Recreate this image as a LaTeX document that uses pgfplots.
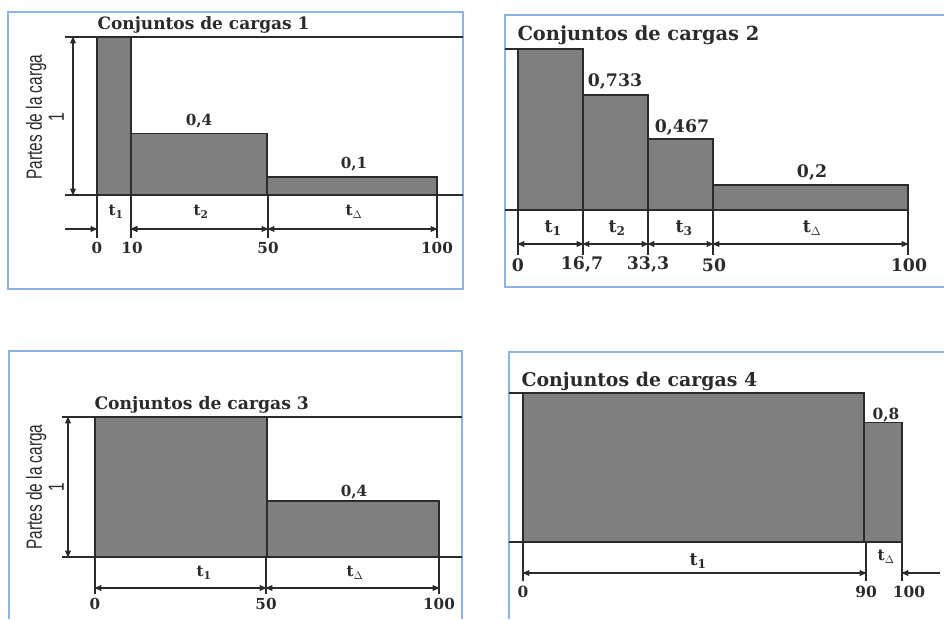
\documentclass[border=0pt]{standalone}
\usepackage{pgfplots}
\pgfplotsset{compat=1.18}
\usepackage{fontspec}
\setmainfont{DejaVu Serif}
\newfontfamily\narrowfont[FakeStretch=0.7]{Liberation Sans}
\usetikzlibrary{arrows.meta}
\definecolor{barfill}{HTML}{7F7F7F}
\definecolor{frameblue}{HTML}{8DB4E2}
\definecolor{ink}{HTML}{2B2B2B}
\newcommand\ta{\bfseries\fontsize{17}{20}\selectfont}
\newcommand\tc{\bfseries\fontsize{17.2}{20}\selectfont}
\newcommand\tb{\bfseries\fontsize{19.4}{22}\selectfont}
\newcommand\td{\bfseries\fontsize{18.9}{22}\selectfont}
\newcommand\na{\bfseries\fontsize{15.2}{18}\selectfont}
\newcommand\nb{\bfseries\fontsize{17.3}{20}\selectfont}
\newcommand\nd{\bfseries\fontsize{15.4}{18}\selectfont}
\newcommand\ylab{\narrowfont\fontsize{22}{22}\selectfont}
\pgfplotsset{
  panel/.style={anchor=south west, scale only axis, xmin=0, xmax=100, ymin=0, ymax=1, hide axis, clip=false},
  bar/.style={fill=barfill, draw=ink, line width=1.3pt, mark=none},
}
\begin{document}
\begin{tikzpicture}[line width=1.3pt, color=ink, >={Latex[length=6pt,width=5pt]}]
\useasboundingbox (0pt,0pt) rectangle (944pt,-619pt);

%% ---------------- axes (bars) ----------------
\begin{axis}[panel, at={(97pt,-195pt)}, width=340pt, height=158pt]
\addplot[bar] coordinates {(0,0) (0,1) (10,1) (10,0)} -- cycle;
\addplot[bar] coordinates {(10,0) (10,0.39) (50,0.39) (50,0)} -- cycle;
\addplot[bar] coordinates {(50,0) (50,0.114) (100,0.114) (100,0)} -- cycle;
\end{axis}
\begin{axis}[panel, at={(518pt,-210pt)}, width=390pt, height=161pt]
\addplot[bar] coordinates {(0,0) (0,1) (16.7,1) (16.7,0)} -- cycle;
\addplot[bar] coordinates {(16.7,0) (16.7,0.714) (33.3,0.714) (33.3,0)} -- cycle;
\addplot[bar] coordinates {(33.3,0) (33.3,0.441) (50,0.441) (50,0)} -- cycle;
\addplot[bar] coordinates {(50,0) (50,0.155) (100,0.155) (100,0)} -- cycle;
\end{axis}
\begin{axis}[panel, at={(95pt,-557pt)}, width=344pt, height=140pt]
\addplot[bar] coordinates {(0,0) (0,1) (50,1) (50,0)} -- cycle;
\addplot[bar] coordinates {(50,0) (50,0.4) (100,0.4) (100,0)} -- cycle;
\end{axis}
\begin{axis}[panel, at={(523pt,-542pt)}, width=379pt, height=149pt]
\addplot[bar] coordinates {(0,0) (0,1) (90,1) (90,0)} -- cycle;
\addplot[bar] coordinates {(90,0) (90,0.8) (100,0.8) (100,0)} -- cycle;
\end{axis}

\begin{scope}[x=1pt,y=-1pt]
%% ---------------- Panel 1 ----------------
\draw[frameblue, line width=1.2pt] (8,12) rectangle (463,289);
\draw (65,37) -- (463,37);
\draw (65,195) -- (463,195);
\draw[<->] (73,37) -- (73,195);
\foreach \x in {97,131,268,437} \draw (\x,195) -- (\x,238);
\draw[->] (65,229) -- (97,229);
\draw[<-] (131,229) -- (150,229);
\draw[<->] (131,229) -- (268,229);
\draw[<->] (268,229) -- (437,229);
\node[anchor=west, font=\ta] at (94,25) {Conjuntos de cargas 1};
\node[font=\na] at (199,121) {0,4};
\node[font=\na] at (354,164) {0,1};
\node[font=\na] at (116,212) {t\textsubscript{1}};
\node[font=\na] at (201,212) {t\textsubscript{2}};
\node[font=\na] at (354,212) {t\textsubscript{\(\Delta\)}};
\node[font=\na] at (97,248) {0};
\node[font=\na] at (132,248) {10};
\node[font=\na] at (268,248) {50};
\node[font=\na] at (437,248) {100};
\node[rotate=90, align=center, font=\ylab] at (45,117) {Partes de la carga\\1};

%% ---------------- Panel 2 ----------------
\draw[frameblue, line width=1.2pt] (944,15) -- (505,15) -- (505,287) -- (944,287);
\draw (505,49) -- (518,49);
\draw (505,210) -- (908,210);
\foreach \x in {518,583,648,713,908} \draw (\x,210) -- (\x,255);
\draw[<->] (518,244) -- (583,244);
\draw[<->] (583,244) -- (648,244);
\draw[<->] (648,244) -- (713,244);
\draw[<->] (713,244) -- (908,244);
\node[anchor=west, font=\tb] at (514,35) {Conjuntos de cargas 2};
\node[font=\nb] at (615,82) {0,733};
\node[font=\nb] at (682,128) {0,467};
\node[font=\nb] at (812,173) {0,2};
\node[font=\nb] at (553,228) {t\textsubscript{1}};
\node[font=\nb] at (617,228) {t\textsubscript{2}};
\node[font=\nb] at (684,228) {t\textsubscript{3}};
\node[font=\nb] at (812,228) {t\textsubscript{\(\Delta\)}};
\node[font=\nb] at (518,265) {0};
\node[font=\nb] at (582,265) {16,7};
\node[font=\nb] at (648,265) {33,3};
\node[font=\nb] at (714,265) {50};
\node[font=\nb] at (909,265) {100};

%% ---------------- Panel 3 ----------------
\draw[frameblue, line width=1.2pt] (9,619) -- (9,351) -- (462,351) -- (462,619);
\draw (62,417) -- (462,417);
\draw (62,557) -- (462,557);
\draw[<->] (68,417) -- (68,557);
\foreach \x in {95,266,439} \draw (\x,557) -- (\x,594);
\draw[<->] (95,588) -- (266,588);
\draw[<->] (266,588) -- (439,588);
\node[anchor=west, font=\tc] at (91,405) {Conjuntos de cargas 3};
\node[font=\na] at (354,492) {0,4};
\node[font=\na] at (204,573) {t\textsubscript{1}};
\node[font=\na] at (355,573) {t\textsubscript{\(\Delta\)}};
\node[font=\na] at (95,604) {0};
\node[font=\na] at (266,604) {50};
\node[font=\na] at (439,604) {100};
\node[rotate=90, align=center, font=\ylab] at (45,487) {Partes de la carga\\1};

%% ---------------- Panel 4 ----------------
\draw[frameblue, line width=1.2pt] (509,619) -- (509,352) -- (944,352);
\draw (509,393) -- (523,393);
\draw (509,542) -- (902,542);
\foreach \x in {523,866,902} \draw (\x,542) -- (\x,581);
\draw[<->] (523,573) -- (866,573);
\draw[<-] (902,573) -- (940,573);
\node[anchor=west, font=\td] at (518,381) {Conjuntos de cargas 4};
\node[font=\nd] at (886,415) {0,8};
\node[font=\nb] at (698,561) {t\textsubscript{1}};
\node[font=\nd] at (886,557) {t\textsubscript{\(\Delta\)}};
\node[font=\nd] at (523,592) {0};
\node[font=\nd] at (866,592) {90};
\node[font=\nd] at (909,592) {100};
\end{scope}
\end{tikzpicture}
\end{document}
